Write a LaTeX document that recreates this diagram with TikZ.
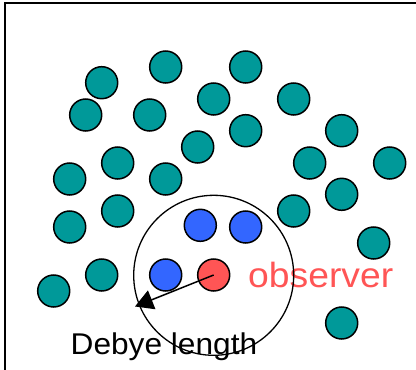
\documentclass[tikz,border=0pt]{standalone}
\usepackage{fontspec}
\setmainfont{Liberation Sans}
\usetikzlibrary{arrows.meta}
\definecolor{tealc}{RGB}{0,153,153}
\definecolor{bluec}{RGB}{51,102,255}
\definecolor{redc}{RGB}{255,85,85}
\tikzset{
  ball/.style={circle, draw=black, line width=1.5pt, minimum size=32pt, inner sep=0pt},
  ion/.style={ball, fill=tealc},
  neg/.style={ball, fill=bluec},
  obs/.style={ball, fill=redc},
}
\begin{document}
\begin{tikzpicture}[x=1pt,y=-1pt]
\useasboundingbox (0,0) rectangle (416,370);
\draw[line width=2pt] (5,370) -- (5,3) -- (416,3);
% labels (drawn first so the sphere outline lies on top)
\node[anchor=base west, inner sep=0pt, text=redc, font=\fontsize{35}{35}\selectfont] (obslabel) at (248,287.3) {\scalebox{1.065}[1]{observer}};
\node[anchor=base west, inner sep=0pt, font=\fontsize{30}{30}\selectfont] (debye) at (70.5,354.3) {\scalebox{1.055}[1]{Debye length}};
% teal ions
\node[ion] (t1) at (101.7,82.7) {};
\node[ion] (t2) at (165.7,67) {};
\node[ion] (t3) at (245.7,67) {};
\node[ion] (t4) at (85.7,115) {};
\node[ion] (t5) at (149.7,115) {};
\node[ion] (t6) at (213.7,99) {};
\node[ion] (t7) at (293.7,99) {};
\node[ion] (t8) at (245.7,130.7) {};
\node[ion] (t9) at (197.7,147) {};
\node[ion] (t10) at (341.7,130.7) {};
\node[ion] (t11) at (117.7,163) {};
\node[ion] (t12) at (309.7,163) {};
\node[ion] (t13) at (389.7,163) {};
\node[ion] (t14) at (69.7,179) {};
\node[ion] (t15) at (165.7,179) {};
\node[ion] (t16) at (341.7,194.3) {};
\node[ion] (t17) at (117.7,211) {};
\node[ion] (t18) at (69.7,227) {};
\node[ion] (t19) at (293.7,211) {};
\node[ion] (t20) at (373.7,243) {};
\node[ion] (t21) at (101.7,275) {};
\node[ion] (t22) at (53.7,291) {};
\node[ion] (t23) at (341.7,323) {};
% electrons
\node[neg] (b1) at (200.3,225.3) {};
\node[neg] (b2) at (245.7,227) {};
\node[neg] (b3) at (165.7,275) {};
\node[obs] (r) at (213.7,275) {};
% Debye sphere
\node[circle, draw=black, line width=1.3pt, minimum size=160pt, inner sep=0pt] (sphere) at (213.7,275.3) {};
\coordinate (tip) at (135,306.5);
\draw[line width=1.5pt, -{Triangle[length=18pt,width=20pt]}] (r.center) -- (tip);
\end{tikzpicture}
\end{document}
